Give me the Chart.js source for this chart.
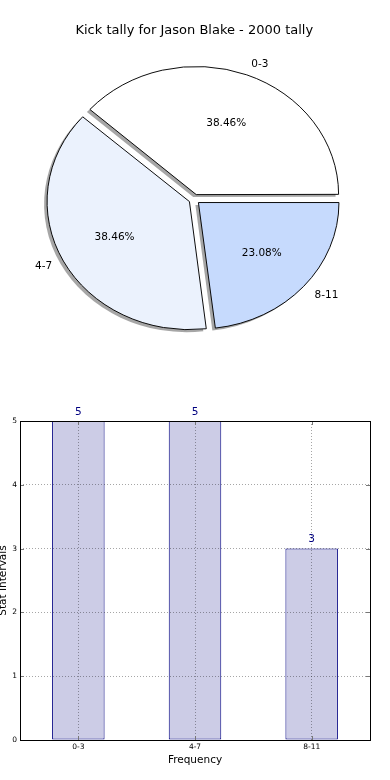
<!DOCTYPE html>
<html>
<head>
<meta charset="utf-8">
<script src="https://cdn.jsdelivr.net/npm/chart.js@4.4.1/dist/chart.umd.min.js"></script>
<style>
  html, body { margin: 0; padding: 0; background: #fff; overflow: hidden; }
  #wrap { position: relative; width: 390px; height: 780px; overflow: hidden; }
  #pie { position: absolute; left: 0; top: 0; width: 390px; height: 390px; }
  #bar { position: absolute; left: -4px; top: 390px; width: 394px; height: 390px; }
</style>
</head>
<body>
<div id="wrap">
  <canvas id="pie" width="390" height="390"></canvas>
  <canvas id="bar" width="394" height="390"></canvas>
</div>
<script>
const TITLE = 'Kick tally for Jason Blake - 2000 tally';
const categories = ['0-3', '4-7', '8-11'];
const tally = [5, 5, 3];
const yTicks = [0, 1, 2, 3, 4, 5];
const sliceColors = ['#FFFFFF', '#EBF2FD', '#C6DAFD'];

// matplotlib goes counter-clockwise from east, chart.js clockwise -> reverse
const pieLabels = categories.slice().reverse();
const pieValues = tally.slice().reverse();
const pieColors = sliceColors.slice().reverse();

const SQUASH = 0.9;        // pie is an ellipse in the reference
const PIE_R = 141;
const EXPLODE = 22;
const SHADOW = { dx: -3, dy: 2.5, color: 'rgba(77,77,77,0.5)' };

Chart.defaults.font.family = '"DejaVu Sans", sans-serif';
Chart.defaults.color = '#000';

function squash(ctx, cy) {
  ctx.translate(0, cy);
  ctx.scale(1, SQUASH);
  ctx.translate(0, -cy);
}

const pieShape = {
  id: 'pieShape',
  beforeDatasetsDraw(chart) {
    const ctx = chart.ctx;
    const arcs = chart.getDatasetMeta(0).data;
    const cy = arcs[0].y;
    // shadow copies first
    ctx.save();
    ctx.translate(SHADOW.dx, SHADOW.dy);
    squash(ctx, cy);
    arcs.forEach(a => {
      const s = Object.create(a);
      s.options = Object.assign({}, a.options, { backgroundColor: SHADOW.color, borderColor: SHADOW.color, borderWidth: 0 });
      s.draw(ctx);
    });
    ctx.restore();
    ctx.save();
    squash(ctx, cy);
  },
  afterDatasetsDraw(chart) {
    const ctx = chart.ctx;
    ctx.restore();
    const arcs = chart.getDatasetMeta(0).data;
    const total = pieValues.reduce((s, v) => s + v, 0);
    ctx.save();
    ctx.font = '10.5px "DejaVu Sans"';
    ctx.fillStyle = '#000';
    ctx.textBaseline = 'middle';
    arcs.forEach((a, i) => {
      const h = (a.startAngle + a.endAngle) / 2;
      const shift = (a.options.offset || 0) / 4;
      const ox = a.x + Math.cos(h) * shift;
      const oy = a.y + Math.sin(h) * shift;
      const at = k => [ox + k * PIE_R * Math.cos(h),
                       a.y + SQUASH * (oy + k * PIE_R * Math.sin(h) - a.y)];
      let [px, py] = at(0.6);
      ctx.textAlign = 'center';
      ctx.fillText((pieValues[i] / total * 100).toFixed(2) + '%', px, py);
      [px, py] = at(1.1);
      ctx.textAlign = Math.cos(h) >= 0 ? 'left' : 'right';
      ctx.fillText(pieLabels[i], px, py);
    });
    ctx.restore();
  }
};

new Chart(document.getElementById('pie'), {
  type: 'pie',
  data: {
    labels: pieLabels,
    datasets: [{
      data: pieValues,
      backgroundColor: pieColors,
      borderColor: '#000',
      borderWidth: 1,
      borderJoinStyle: 'miter',
      offset: EXPLODE,
      clip: false
    }]
  },
  options: {
    responsive: false,
    animation: false,
    rotation: 90,
    radius: PIE_R - 0.5,
    layout: { padding: { top: 0, left: 0, right: 1.4, bottom: 39.6 } },
    plugins: {
      legend: { display: false },
      tooltip: { enabled: false },
      title: {
        display: true,
        text: TITLE,
        color: '#000',
        font: { size: 13, weight: 'normal' },
        padding: { top: 22.5, bottom: 10 }
      }
    }
  },
  plugins: [pieShape]
});

const barExtras = {
  id: 'barExtras',
  afterDraw(chart) {
    const ctx = chart.ctx;
    const { left, right, top, bottom } = chart.chartArea;
    const xs = chart.scales.x, ys = chart.scales.y;
    ctx.save();
    // inward tick marks
    ctx.strokeStyle = '#777';
    ctx.lineWidth = 1;
    ctx.beginPath();
    ys.ticks.forEach(t => {
      const y = Math.round(ys.getPixelForValue(t.value)) + 0.5;
      ctx.moveTo(left, y); ctx.lineTo(left + 4, y);
      ctx.moveTo(right - 4, y); ctx.lineTo(right, y);
    });
    xs.ticks.forEach((t, i) => {
      const x = Math.round(xs.getPixelForTick(i)) + 0.5;
      ctx.moveTo(x, bottom); ctx.lineTo(x, bottom - 4);
      ctx.moveTo(x, top); ctx.lineTo(x, top + 4);
    });
    ctx.stroke();
    // axes frame
    ctx.strokeStyle = '#000';
    ctx.strokeRect(Math.round(left) + 0.5, Math.round(top) + 0.5, Math.round(right - left), Math.round(bottom - top));
    // value labels
    ctx.font = '10.5px "DejaVu Sans"';
    ctx.fillStyle = '#000080';
    ctx.textAlign = 'center';
    ctx.textBaseline = 'middle';
    chart.getDatasetMeta(0).data.forEach((bar, i) => {
      ctx.fillText(String(tally[i]), bar.x, bar.y - 9);
    });
    ctx.restore();
  }
};

new Chart(document.getElementById('bar'), {
  type: 'bar',
  data: {
    labels: categories,
    datasets: [{
      data: tally,
      backgroundColor: '#CCCCE6',
      borderColor: '#000080',
      borderWidth: 1,
      borderSkipped: false,
      categoryPercentage: 1,
      barPercentage: 0.45
    }]
  },
  options: {
    responsive: false,
    animation: false,
    layout: { padding: { top: 31, right: 20, bottom: 0, left: 0 } },
    plugins: { legend: { display: false }, tooltip: { enabled: false } },
    scales: {
      x: {
        grid: { offset: false, color: 'rgba(0,0,0,0.35)', drawTicks: false, z: 1 },
        border: { display: false, dash: [1, 2] },
        ticks: { font: { size: 7.5 }, color: '#000', padding: 3, maxRotation: 0 },
        title: { display: true, text: 'Frequency', font: { size: 10.5 }, color: '#000', padding: { top: 0, bottom: 13 } },
        afterFit: s => { s.height = 40; }
      },
      y: {
        min: 0,
        max: 5,
        afterBuildTicks: s => { s.ticks = yTicks.map(v => ({ value: v })); },
        grid: { color: 'rgba(0,0,0,0.35)', drawTicks: false, z: 1 },
        border: { display: false, dash: [1, 2] },
        ticks: { font: { size: 7.5 }, color: '#000', padding: 3 },
        title: { display: true, text: 'Stat Intervals', font: { size: 10.5 }, color: '#000', padding: { top: 1, bottom: 0 } },
        afterFit: s => { s.width = 24; }
      }
    }
  },
  plugins: [barExtras]
});
</script>
</body>
</html>
